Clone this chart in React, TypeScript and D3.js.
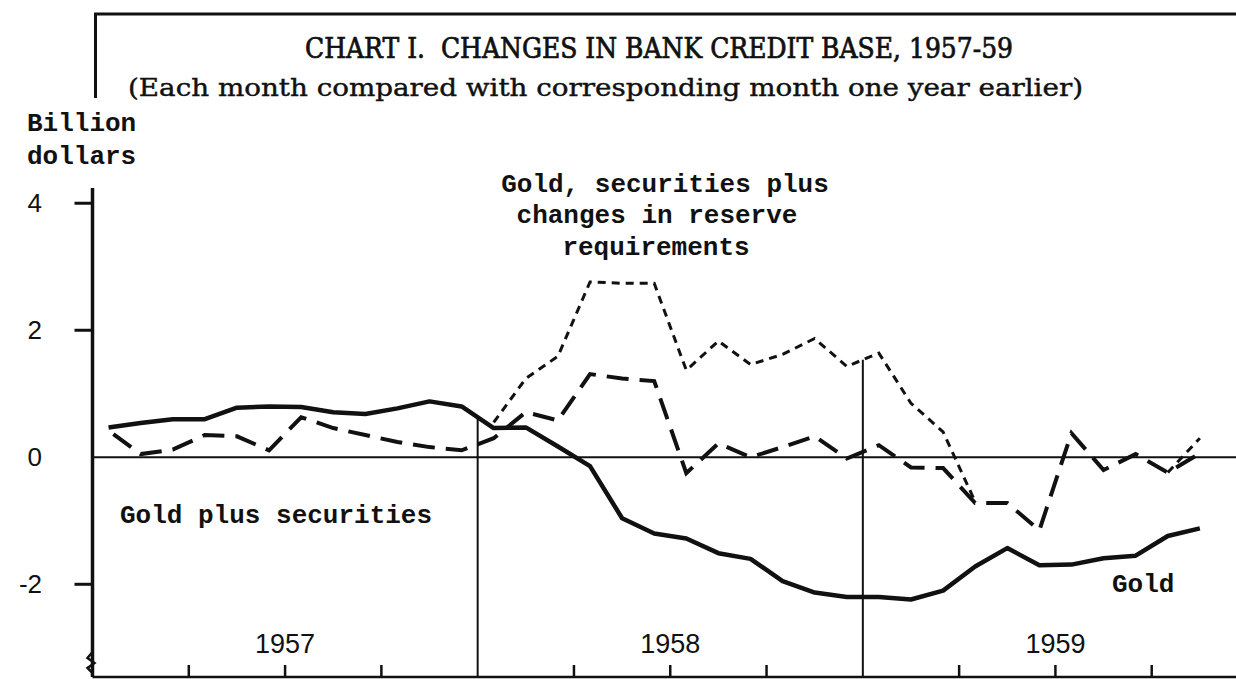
import React, { useEffect, useRef } from "react"
import * as d3 from "d3"

// monthly data, Jan 1957 .. Dec 1959 (billion dollars, change from a year earlier)
const years = ["1957", "1958", "1959"]
const monthNames = ["Jan", "Feb", "Mar", "Apr", "May", "Jun", "Jul", "Aug", "Sep", "Oct", "Nov", "Dec"]

const gold = [
  0.47, 0.54, 0.6, 0.6, 0.78, 0.8, 0.79, 0.71, 0.68, 0.77, 0.88, 0.8,
  0.46, 0.47, 0.17, -0.14, -0.96, -1.2, -1.28, -1.51, -1.6, -1.95, -2.13, -2.2,
  -2.2, -2.24, -2.1, -1.72, -1.43, -1.7, -1.69, -1.59, -1.55, -1.24, -1.12, null
]
const goldPlusSecurities = [
  0.42, 0.05, 0.12, 0.35, 0.33, 0.11, 0.63, 0.46, 0.35, 0.24, 0.16, 0.11,
  0.3, 0.71, 0.58, 1.31, 1.24, 1.2, -0.25, 0.22, 0.0, 0.16, 0.33, -0.02,
  0.19, -0.16, -0.17, -0.72, -0.72, -1.15, 0.38, -0.2, 0.05, -0.24, 0.06, null
]
// only drawn where it differs from gold plus securities
const withReserveReq = [
  null, null, null, null, null, null, null, null, null, null, null, null,
  0.55, 1.24, 1.59, 2.76, 2.74, 2.74, 1.37, 1.83, 1.46, 1.62, 1.87, 1.43,
  1.64, 0.85, 0.4, -0.7, null, null, null, null, null, -0.24, 0.3, null
]

const yTicks = [4, 2, 0, -2]
const yTickLabels = ["4", "2", "0", "-2"]
const quarterTicks = [3, 6, 9, 15, 18, 21, 27, 30, 33]
const yearBreaks = [12, 24]

const W = 1236
const H = 679

const App = () => {
  const ref = useRef<SVGSVGElement>(null)

  useEffect(() => {
    drawChart()
  }, [])

  const drawChart = () => {
    const svg = d3.select(ref.current)
    svg.selectAll("*").remove()

    const x = d3.scaleLinear().domain([0, 36]).range([92.5, 1248])
    const y = d3.scaleLinear().domain([-3.46, 4.24]).range([677, 188])
    const mono = "'Liberation Mono', 'Courier New', monospace"
    const sans = "'Liberation Sans', Arial, sans-serif"
    const serif = "'DejaVu Serif Condensed', 'DejaVu Serif', 'Liberation Serif', serif"
    const axisX = x(0)

    // frame at top
    svg.append("path")
      .attr("d", `M${axisX + 3},98 L${axisX + 3},14 L${W},14`)
      .attr("fill", "none").attr("stroke", "#111").attr("stroke-width", 3)

    svg.append("text")
      .attr("x", 305).attr("y", 58)
      .attr("textLength", 708).attr("lengthAdjust", "spacingAndGlyphs")
      .style("white-space", "pre").style("font-stretch", "condensed")
      .attr("font-family", serif).attr("font-size", 28).attr("fill", "#111")
      .attr("stroke", "#111").attr("stroke-width", 0.7)
      .text("CHART I.  CHANGES IN BANK CREDIT BASE, 1957-59")
    svg.append("text")
      .attr("x", 128).attr("y", 96)
      .attr("textLength", 955).attr("lengthAdjust", "spacingAndGlyphs")
      .style("font-stretch", "condensed")
      .attr("font-family", serif).attr("font-size", 25).attr("fill", "#111")
      .attr("stroke", "#111").attr("stroke-width", 0.4)
      .text("(Each month compared with corresponding month one year earlier)")

    const label = (txt: string, lx: number, ly: number, anchor = "start") =>
      svg.append("text").attr("x", lx).attr("y", ly).attr("text-anchor", anchor)
        .attr("font-family", mono).attr("font-size", 26).attr("font-weight", "bold")
        .attr("fill", "#111")
        .text(txt)

    label("Billion", 27, 131)
    label("dollars", 27, 164)

    // y axis
    svg.append("line")
      .attr("x1", axisX).attr("x2", axisX).attr("y1", y(4.24)).attr("y2", y(-3.46))
      .attr("stroke", "#111").attr("stroke-width", 3.5)
    yTicks.forEach((t, i) => {
      if (t !== 0) {
        svg.append("line")
          .attr("x1", axisX - 18).attr("x2", axisX).attr("y1", y(t)).attr("y2", y(t))
          .attr("stroke", "#111").attr("stroke-width", 3)
      }
      svg.append("text")
        .attr("x", 42).attr("y", y(t) + 9)
        .attr("text-anchor", "end")
        .attr("font-family", sans).attr("font-size", 26).attr("fill", "#111")
        .text(yTickLabels[i])
    })
    // axis break
    svg.append("path")
      .attr("d", `M${axisX},652 L${axisX - 5},658 L${axisX + 2},663 L${axisX - 5},668 L${axisX},673`)
      .attr("fill", "none").attr("stroke", "#111").attr("stroke-width", 2.5)

    // zero line and base line
    svg.append("line")
      .attr("x1", axisX).attr("x2", W).attr("y1", y(0)).attr("y2", y(0))
      .attr("stroke", "#111").attr("stroke-width", 2)
    svg.append("line")
      .attr("x1", axisX).attr("x2", W).attr("y1", y(-3.46)).attr("y2", y(-3.46))
      .attr("stroke", "#111").attr("stroke-width", 2.5)

    quarterTicks.forEach(m => {
      svg.append("line")
        .attr("x1", x(m)).attr("x2", x(m)).attr("y1", y(-3.46)).attr("y2", y(-3.46) - 12)
        .attr("stroke", "#111").attr("stroke-width", 2.5)
    })

    // year dividers reach up to the highest curve
    const series = [gold, goldPlusSecurities, withReserveReq]
    yearBreaks.forEach(m => {
      const top = d3.max(series, s =>
        s[m - 1] != null && s[m] != null ? ((s[m - 1] as number) + (s[m] as number)) / 2 : -9)
      svg.append("line")
        .attr("x1", x(m)).attr("x2", x(m)).attr("y1", y(-3.46)).attr("y2", y(top as number))
        .attr("stroke", "#111").attr("stroke-width", 2)
    })

    years.forEach((yr, i) => {
      svg.append("text")
        .attr("x", x(i * 12 + 6)).attr("y", 653)
        .attr("text-anchor", "middle")
        .attr("font-family", sans).attr("font-size", 27).attr("fill", "#111")
        .text(yr)
    })

    const line = d3.line<number | null>()
      .defined(d => d != null)
      .x((d, i) => x(i + 0.5))
      .y(d => y(d as number))

    svg.append("path").datum(gold)
      .attr("d", line).attr("fill", "none")
      .attr("stroke", "#111").attr("stroke-width", 4.5).attr("stroke-linejoin", "round")
    svg.append("path").datum(goldPlusSecurities)
      .attr("d", line).attr("fill", "none")
      .attr("stroke", "#111").attr("stroke-width", 4).attr("stroke-dasharray", "22 11")
      .attr("stroke-dashoffset", -6)
    svg.append("path").datum(withReserveReq)
      .attr("d", line).attr("fill", "none")
      .attr("stroke", "#111").attr("stroke-width", 3).attr("stroke-dasharray", "8 6")

    // labels
    label("Gold, securities plus", 665, 192, "middle")
    label("changes in reserve", 657, 223, "middle")
    label("requirements", 656, 255, "middle")
    label("Gold plus securities", 120, 523)
    label("Gold", 1112, 592)
  }

  return (
    <div style={{ position: "absolute", left: 0, top: 0, background: "#fff" }}>
      <svg ref={ref} width={W} height={H} style={{ display: "block" }} />
    </div>
  )
}

export default App
